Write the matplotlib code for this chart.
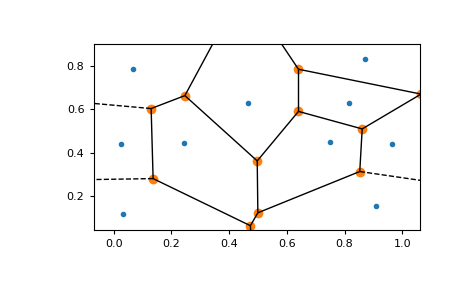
import numpy as np
import matplotlib
matplotlib.use("Agg")
import matplotlib.pyplot as plt
import matplotlib.tri as mtri
from matplotlib.collections import LineCollection

# Generator points
point_x = [0.0657, 0.4637, 0.872, 0.8166, 0.0242, 0.2422, 0.0311, 0.7509, 0.9654, 0.910]
point_y = [0.789, 0.628, 0.833, 0.628, 0.4394, 0.444, 0.117, 0.4486, 0.4394, 0.154]

pts = np.column_stack([point_x, point_y])

# Voronoi diagram via Delaunay triangulation (circumcenters)
tri = mtri.Triangulation(pts[:, 0], pts[:, 1])
T = tri.triangles
nbrs = tri.neighbors


def circumcenter(a, b, c):
    d = 2 * (a[0] * (b[1] - c[1]) + b[0] * (c[1] - a[1]) + c[0] * (a[1] - b[1]))
    ux = ((a @ a) * (b[1] - c[1]) + (b @ b) * (c[1] - a[1]) + (c @ c) * (a[1] - b[1])) / d
    uy = ((a @ a) * (c[0] - b[0]) + (b @ b) * (a[0] - c[0]) + (c @ c) * (b[0] - a[0])) / d
    return np.array([ux, uy])


verts = np.array([circumcenter(pts[t[0]], pts[t[1]], pts[t[2]]) for t in T])

center = pts.mean(axis=0)
ptp_bound = np.ptp(pts, axis=0)
aspect_factor = abs(ptp_bound.max() / ptp_bound.min())
finite, infinite = [], []
for ti in range(len(T)):
    for j in range(3):
        nb = nbrs[ti, j]
        p0, p1 = T[ti, j], T[ti, (j + 1) % 3]
        if nb == -1:
            tv = pts[p1] - pts[p0]
            tv = tv / np.linalg.norm(tv)
            n = np.array([-tv[1], tv[0]])
            mid = (pts[p0] + pts[p1]) / 2
            direction = np.sign(np.dot(mid - center, n)) * n
            far = verts[ti] + direction * ptp_bound.max() * aspect_factor
            infinite.append([verts[ti], far])
        elif nb > ti:
            finite.append([verts[ti], verts[nb]])

fig = plt.figure(figsize=(4.65, 2.88), dpi=100)
ax = fig.add_axes([93.5 / 465, (288 - 229.5) / 288, 326 / 465, 186 / 288])

ax.plot(pts[:, 0], pts[:, 1], '.')
ax.plot(verts[:, 0], verts[:, 1], 'o')
ax.add_collection(LineCollection(finite, colors='k', lw=1.0, linestyle='solid'))
ax.add_collection(LineCollection(infinite, colors='k', lw=1.0, linestyle='dashed'))

margin = 0.1 * ptp_bound
lo = pts.min(axis=0) - margin
hi = pts.max(axis=0) + margin
ax.set_xlim(lo[0], hi[0])
ax.set_ylim(lo[1], hi[1])
ax.tick_params(labelsize=8, length=3)

fig.savefig("out.png", dpi=100)
